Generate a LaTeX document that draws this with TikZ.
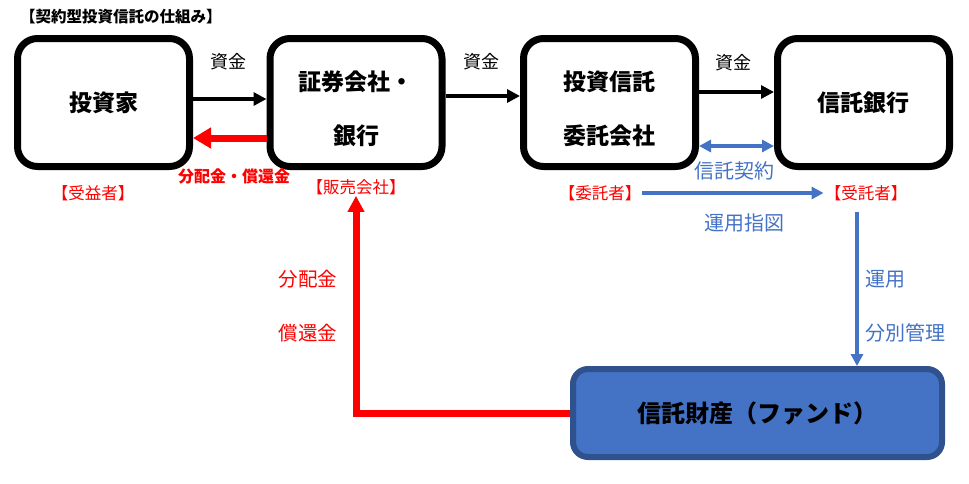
\documentclass[tikz,border=0pt]{standalone}
\usepackage{fontspec}
\setmainfont{Noto Sans CJK JP}
\usetikzlibrary{arrows.meta}
\definecolor{myblue}{HTML}{4472C4}
\definecolor{darkblue}{HTML}{2F528F}
\definecolor{myred}{HTML}{FF0000}
\newcommand{\lowerstrut}{\rule{0pt}{32pt}}
\tikzset{
  box/.style={draw=black, line width=7pt, rounded corners=20pt, fill=white,
    minimum width=172pt, minimum height=128pt, align=center, font=\fontsize{23}{54}\selectfont\bfseries},
  fund/.style={draw=darkblue, fill=myblue, line width=6pt, rounded corners=15pt,
    minimum width=369pt, minimum height=88pt, font=\fontsize{24}{28}\selectfont\bfseries},
  blk/.style={line width=4pt, -{Triangle[length=13pt,width=13pt]}},
  redarr/.style={draw=myred, line width=7pt, -{Triangle[length=18pt,width=20pt]}},
  bluearr/.style={draw=myblue, line width=3.5pt, -{Triangle[length=12pt,width=12pt]}},
  lbl/.style={inner sep=1pt, font=\fontsize{18}{20}\selectfont},
  redlbl/.style={inner sep=1pt, text=myred, font=\fontsize{16.5}{18}\selectfont},
  bluelbl/.style={inner sep=1pt, text=myblue, font=\fontsize{20}{22}\selectfont},
}
\begin{document}
\begin{tikzpicture}[x=1pt,y=-1pt]
\useasboundingbox (0,0) rectangle (969,483);
\node[anchor=west, inner sep=0pt, font=\fontsize{15.5}{17}\selectfont\bfseries] (title) at (20,17) {【契約型投資信託の仕組み】};
\node[box] (inv) at (103.5,102.5) {投資家};
\node[box] (sec) at (356,102.5) {\lowerstrut 証券会社・\\銀行};
\node[box] (itm) at (609.5,102.5) {\lowerstrut 投資信託\\委託会社};
\node[box] (tb) at (863.5,102.5) {信託銀行};
\node[fund] (fd) at (757.5,413) {信託財産（ファンド）};

\draw[blk] (inv.east |- 0,99) -- (sec.west |- 0,99);
\draw[blk] (sec.east |- 0,96) -- (itm.west |- 0,96);
\draw[blk] (itm.east |- 0,92) -- (tb.west |- 0,92);
\node[lbl] (s1) at (228,62) {資金};
\node[lbl] (s2) at (481,62) {資金};
\node[lbl] (s3) at (733,63) {資金};

\draw[redarr] (sec.west |- 0,138) -- (inv.east |- 0,138);
\node[redlbl, font=\fontsize{16}{18}\selectfont\bfseries] (hk) at (234,176) {分配金・償還金};

\node[redlbl] (jue) at (93,193) {【受益者】};
\node[redlbl] (han) at (356,187) {【販売会社】};
\node[redlbl] (itk) at (600,193) {【委託者】};
\node[redlbl] (jut) at (866,193) {【受託者】};

\draw[bluearr, {Triangle[length=12pt,width=12pt]}-{Triangle[length=12pt,width=12pt]}] (itm.east |- 0,146) -- (tb.west |- 0,146);
\node[bluelbl] (kei) at (734,171) {信託契約};
\draw[bluearr] (itk.east) -- (jut.west);
\node[bluelbl] (shi) at (744,223) {運用指図};

\coordinate (vtop) at (857,212);
\draw[bluearr] (vtop) -- (vtop |- fd.north);
\node[bluelbl, anchor=west] (un) at (864,279) {運用};
\node[bluelbl, anchor=west] (bk) at (864,333) {分別管理};

\draw[redarr, -{Triangle[length=16pt,width=16pt]}] (fd.west) -- (han.south |- fd.west) -- (han.south);
\node[redlbl, font=\fontsize{19.5}{21}\selectfont] (hai) at (308,279) {分配金};
\node[redlbl, font=\fontsize{19.5}{21}\selectfont] (sho) at (308,333) {償還金};
\end{tikzpicture}
\end{document}
